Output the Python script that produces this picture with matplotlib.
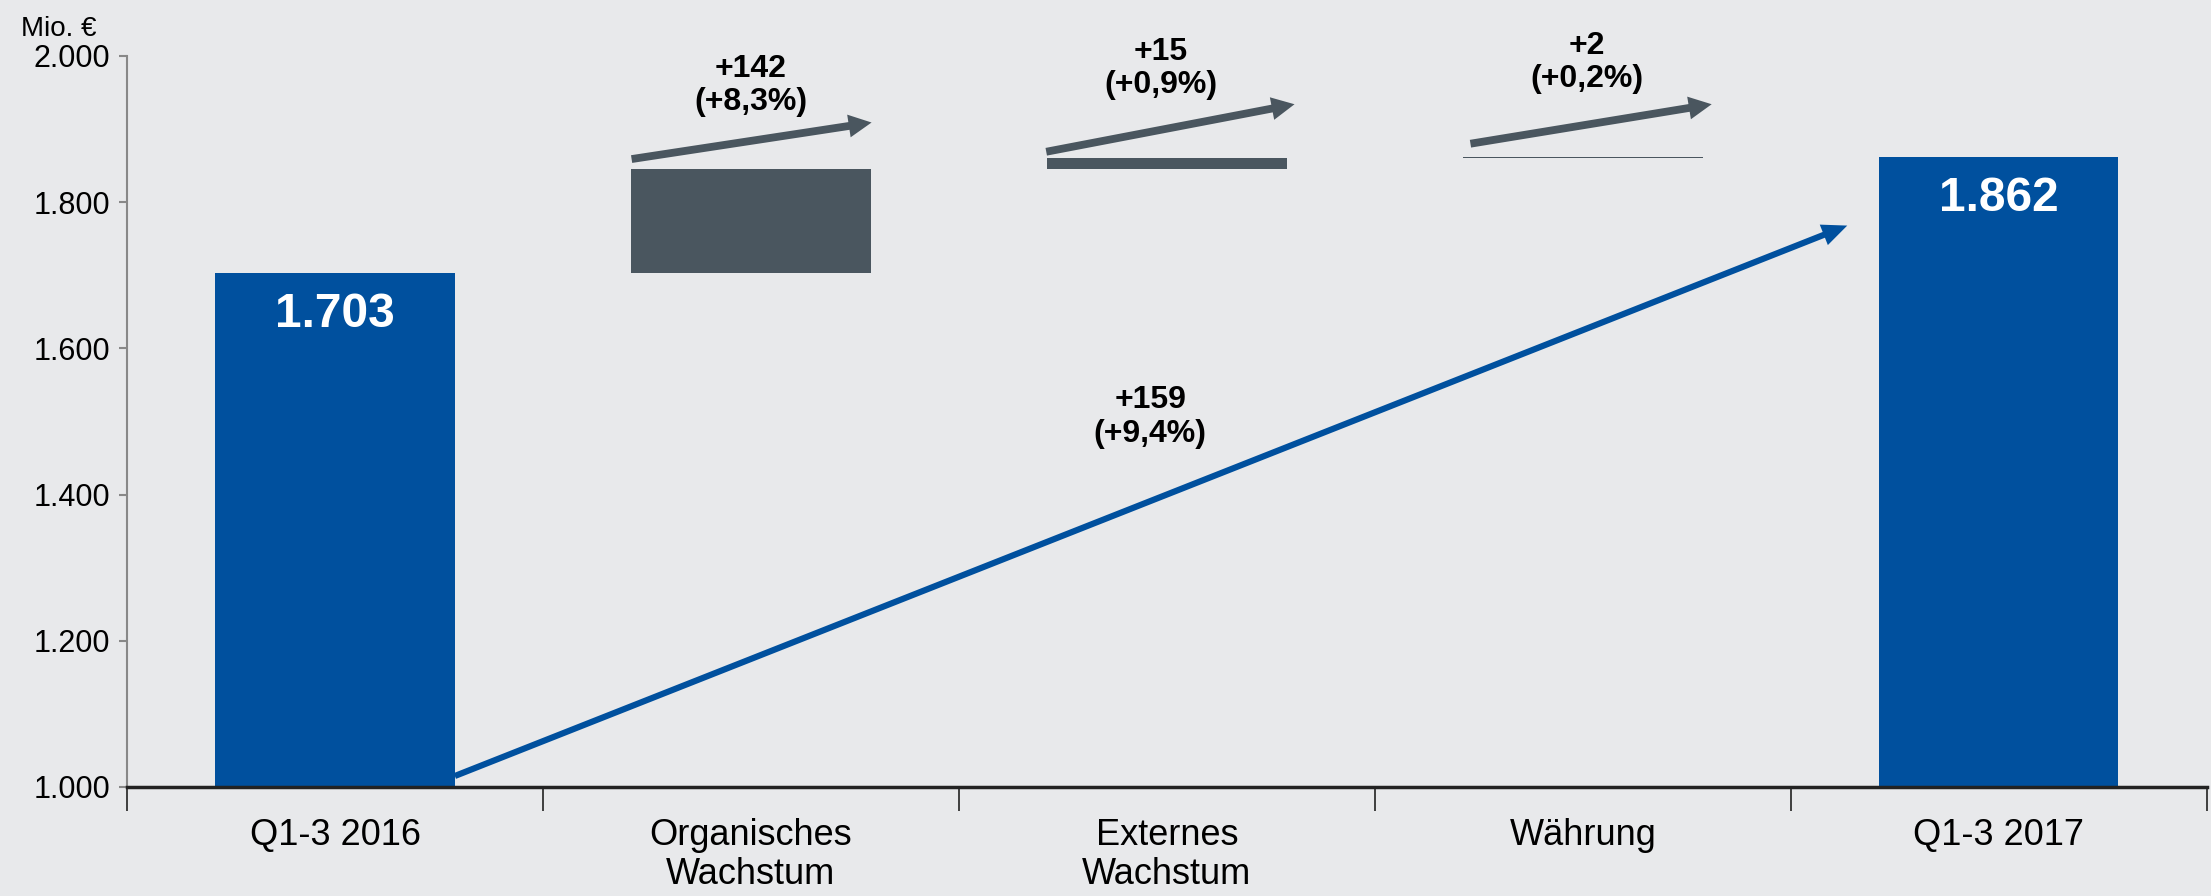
import matplotlib
matplotlib.use("Agg")
import matplotlib.pyplot as plt
import numpy as np

categories = ["Q1-3 2016", "Organisches\nWachstum", "Externes\nWachstum", "Währung", "Q1-3 2017"]
start_value = 1703
steps = [142, 15, 2]
end_value = 1862
step_labels = ["+142\n(+8,3%)", "+15\n(+0,9%)", "+2\n(+0,2%)"]
total_label = "+159\n(+9,4%)"
yticks = [1000, 1200, 1400, 1600, 1800, 2000]
ytick_labels = ["1.000", "1.200", "1.400", "1.600", "1.800", "2.000"]

BG = "#E8E9EB"
BLUE = "#00509E"
GREY = "#4A565F"
plt.rcParams['font.family'] = ['Liberation Sans', 'DejaVu Sans']

fig = plt.figure(figsize=(22.11, 8.96), dpi=100, facecolor=BG)
ax = fig.add_axes([0.0575, 0.1217, 0.9405, 0.8158])
ax.set_facecolor(BG)

w = 0.576
x = np.arange(len(categories))
base = 1000
# total bars
ax.bar([0, 4], [start_value - base, end_value - base], bottom=base, width=w, color=BLUE, zorder=2)
# step bars
bottoms = start_value + np.concatenate([[0], np.cumsum(steps)[:-1]])
ax.bar(x[1:4], steps, bottom=bottoms, width=w, color=GREY, zorder=2)

# value labels in total bars
for xi, v in [(0, start_value), (4, end_value)]:
    ax.text(xi, v - 57, f"{v:,}".replace(",", "."), ha="center", va="center",
            color="white", fontsize=34.5, fontweight="bold")

# grey step arrows
offs_start = [14, 9, 18]
ends = [1909, 1934, 1934]
xs0 = [0.713, 1.71, 2.73]
xs1 = [1.29, 2.307, 3.31]
tops = bottoms + np.array(steps)
for i in range(3):
    ax.annotate("", xy=(xs1[i], ends[i]), xytext=(xs0[i], tops[i] + offs_start[i]),
                arrowprops=dict(arrowstyle="simple,head_length=0.5,head_width=0.5,tail_width=0.17",
                                fc=GREY, ec="none", lw=0, mutation_scale=33,
                                shrinkA=0, shrinkB=0), zorder=3)
label_y = [1960, 1983, 1991]
label_x = [1.0, 1.985, 3.01]
for i in range(3):
    ax.text(label_x[i], label_y[i], step_labels[i], ha="center", va="center",
            fontsize=23, fontweight="bold", linespacing=1.15)

# blue total arrow
ax.annotate("", xy=(4 - w / 2 - 0.076, 1768), xytext=(w / 2, 1015),
            arrowprops=dict(arrowstyle="simple,head_length=0.55,head_width=0.48,tail_width=0.135",
                            fc=BLUE, ec="none", lw=0, mutation_scale=33,
                            shrinkA=0, shrinkB=0), zorder=3)
ax.text(1.96, 1506, total_label, ha="center", va="center",
        fontsize=23, fontweight="bold", linespacing=1.15)

ax.set_xlim(-0.5, 4.5)
ax.set_ylim(1000, 2000)
ax.set_yticks(yticks)
ax.set_yticklabels(ytick_labels, fontsize=22)
ax.set_xticks(x)
ax.set_xticklabels(categories, fontsize=26, linespacing=1.15)
ax.tick_params(axis="x", which="major", length=0, pad=22)
ax.set_xticks(np.arange(-0.5, 5.0, 1.0), minor=True)
ax.tick_params(axis="x", which="minor", length=17, width=1.2, color="#222222")
ax.tick_params(axis="y", length=6, width=1.5, color="#888888", pad=6)

for s in ["top", "right"]:
    ax.spines[s].set_visible(False)
ax.spines["left"].set_color("#888888")
ax.spines["left"].set_linewidth(1.5)
ax.spines["bottom"].set_color("#222222")
ax.spines["bottom"].set_linewidth(2.5)
ax.spines["bottom"].set_zorder(4)

fig.text(0.0095, 0.968, "Mio. €", fontsize=20, ha="left", va="center")

fig.savefig("out.png", dpi=100, facecolor=BG)
